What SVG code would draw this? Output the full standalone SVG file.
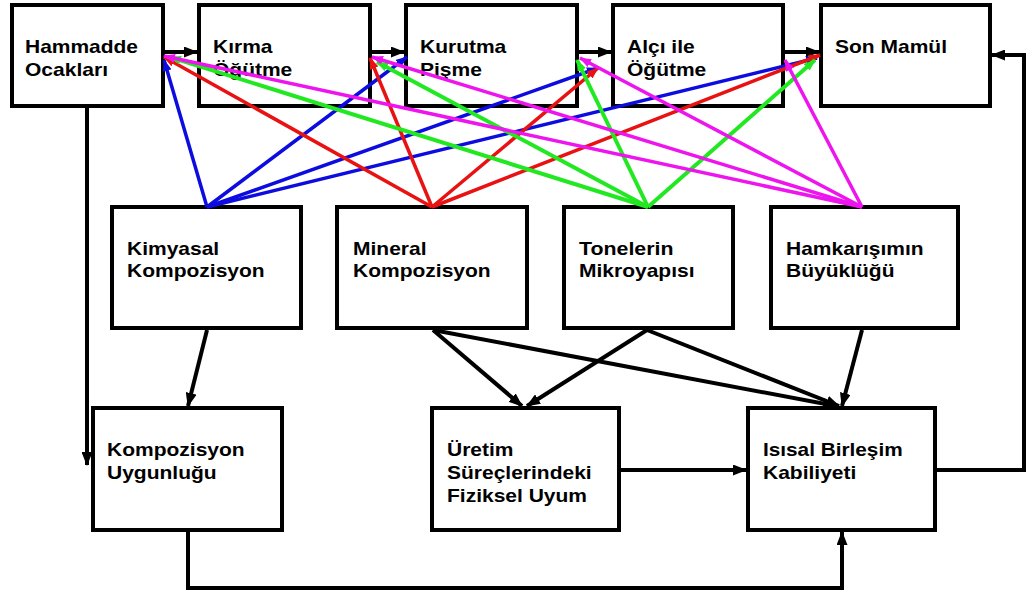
<svg xmlns="http://www.w3.org/2000/svg" width="1030" height="596" viewBox="0 0 1030 596">
  <style>
    .box { fill: #ffffff; stroke: #000000; stroke-width: 4; }
    .lbl { font-family: "Liberation Sans", Arial, sans-serif; font-weight: bold; font-size: 19px; fill: #000000; }
    .flow { fill: none; stroke: #000000; stroke-width: 4; }
    .blue { fill: none; stroke: #0c0ce0; stroke-width: 3.5; }
    .red { fill: none; stroke: #e81212; stroke-width: 3.5; }
    .green { fill: none; stroke: #22e822; stroke-width: 4; }
    .magenta { fill: none; stroke: #ee14ee; stroke-width: 3.5; }
  </style>
  <defs>
    <marker id="ahBlack" viewBox="0 0 14 11" refX="13" refY="5.5" markerWidth="14" markerHeight="11" markerUnits="userSpaceOnUse" orient="auto">
      <path d="M0,0 L14,5.5 L0,11 z" fill="#000000"/>
    </marker>
    <marker id="ahBlue" viewBox="0 0 12 9" refX="11" refY="4.5" markerWidth="12" markerHeight="9" markerUnits="userSpaceOnUse" orient="auto">
      <path d="M0,0 L12,4.5 L0,9 z" fill="#0c0ce0"/>
    </marker>
    <marker id="ahRed" viewBox="0 0 12 9" refX="11" refY="4.5" markerWidth="12" markerHeight="9" markerUnits="userSpaceOnUse" orient="auto">
      <path d="M0,0 L12,4.5 L0,9 z" fill="#e81212"/>
    </marker>
    <marker id="ahGreen" viewBox="0 0 12 9" refX="11" refY="4.5" markerWidth="12" markerHeight="9" markerUnits="userSpaceOnUse" orient="auto">
      <path d="M0,0 L12,4.5 L0,9 z" fill="#22e822"/>
    </marker>
    <marker id="ahMagenta" viewBox="0 0 12 9" refX="11" refY="4.5" markerWidth="12" markerHeight="9" markerUnits="userSpaceOnUse" orient="auto">
      <path d="M0,0 L12,4.5 L0,9 z" fill="#ee14ee"/>
    </marker>
  </defs>

  <rect x="0" y="0" width="1030" height="596" fill="#ffffff"/>

  <!-- process chain (top row) -->
  <g id="hammadde">
    <rect class="box" x="12" y="5" width="151" height="101"/>
    <text class="lbl" x="25" y="53" textLength="113" lengthAdjust="spacingAndGlyphs">Hammadde</text>
    <text class="lbl" x="25" y="76" textLength="83" lengthAdjust="spacingAndGlyphs">Ocakları</text>
  </g>
  <g id="kirma">
    <rect class="box" x="199" y="5" width="171" height="101"/>
    <text class="lbl" x="213" y="53" textLength="59.5" lengthAdjust="spacingAndGlyphs">Kırma</text>
    <text class="lbl" x="213" y="76" textLength="79.3" lengthAdjust="spacingAndGlyphs">Öğütme</text>
  </g>
  <g id="kurutma">
    <rect class="box" x="406" y="5" width="171" height="101"/>
    <text class="lbl" x="420" y="53" textLength="86.3" lengthAdjust="spacingAndGlyphs">Kurutma</text>
    <text class="lbl" x="420" y="76" textLength="61.9" lengthAdjust="spacingAndGlyphs">Pişme</text>
  </g>
  <g id="alci">
    <rect class="box" x="613" y="5" width="170" height="101"/>
    <text class="lbl" x="627" y="53" textLength="67.7" lengthAdjust="spacingAndGlyphs">Alçı ile</text>
    <text class="lbl" x="627" y="76" textLength="79.3" lengthAdjust="spacingAndGlyphs">Öğütme</text>
  </g>
  <g id="sonmamul">
    <rect class="box" x="821" y="5" width="169" height="101"/>
    <text class="lbl" x="835" y="53" textLength="112" lengthAdjust="spacingAndGlyphs">Son Mamül</text>
  </g>

  <!-- raw material properties (middle row) -->
  <g id="kimyasal">
    <rect class="box" x="112" y="207" width="189" height="121"/>
    <text class="lbl" x="127" y="255" textLength="92.2" lengthAdjust="spacingAndGlyphs">Kimyasal</text>
    <text class="lbl" x="127" y="277" textLength="137.7" lengthAdjust="spacingAndGlyphs">Kompozisyon</text>
  </g>
  <g id="mineral">
    <rect class="box" x="337" y="207" width="190" height="121"/>
    <text class="lbl" x="353" y="255" textLength="73.5" lengthAdjust="spacingAndGlyphs">Mineral</text>
    <text class="lbl" x="353" y="277" textLength="137.7" lengthAdjust="spacingAndGlyphs">Kompozisyon</text>
  </g>
  <g id="tonelerin">
    <rect class="box" x="564" y="207" width="169" height="121"/>
    <text class="lbl" x="579" y="255" textLength="94.5" lengthAdjust="spacingAndGlyphs">Tonelerin</text>
    <text class="lbl" x="579" y="277" textLength="115.5" lengthAdjust="spacingAndGlyphs">Mikroyapısı</text>
  </g>
  <g id="hamkarisim">
    <rect class="box" x="771" y="207" width="187" height="121"/>
    <text class="lbl" x="786" y="255" textLength="137.7" lengthAdjust="spacingAndGlyphs">Hamkarışımın</text>
    <text class="lbl" x="786" y="277" textLength="108.5" lengthAdjust="spacingAndGlyphs">Büyüklüğü</text>
  </g>

  <!-- outcomes (bottom row) -->
  <g id="uygunluk">
    <rect class="box" x="93" y="408" width="189" height="122"/>
    <text class="lbl" x="107" y="456" textLength="137.7" lengthAdjust="spacingAndGlyphs">Kompozisyon</text>
    <text class="lbl" x="107" y="479" textLength="109.7" lengthAdjust="spacingAndGlyphs">Uygunluğu</text>
  </g>
  <g id="uretim">
    <rect class="box" x="432" y="408" width="187" height="122"/>
    <text class="lbl" x="447" y="456" textLength="66.5" lengthAdjust="spacingAndGlyphs">Üretim</text>
    <text class="lbl" x="447" y="479" textLength="144.7" lengthAdjust="spacingAndGlyphs">Süreçlerindeki</text>
    <text class="lbl" x="447" y="502" textLength="140" lengthAdjust="spacingAndGlyphs">Fiziksel Uyum</text>
  </g>
  <g id="isisal">
    <rect class="box" x="748" y="408" width="187" height="122"/>
    <text class="lbl" x="763" y="456" textLength="139.6" lengthAdjust="spacingAndGlyphs">Isısal Birleşim</text>
    <text class="lbl" x="763" y="479" textLength="93.4" lengthAdjust="spacingAndGlyphs">Kabiliyeti</text>
  </g>

  <g id="connectors">
    <!-- process chain arrows -->
    <line class="flow" x1="163" y1="52" x2="197" y2="52" marker-end="url(#ahBlack)"/>
    <line class="flow" x1="370" y1="52" x2="404" y2="52" marker-end="url(#ahBlack)"/>
    <line class="flow" x1="577" y1="52" x2="611" y2="52" marker-end="url(#ahBlack)"/>
    <line class="flow" x1="783" y1="52" x2="819" y2="52" marker-end="url(#ahBlack)"/>

    <!-- property to outcome arrows -->
    <line class="flow" x1="207" y1="330" x2="188" y2="406" marker-end="url(#ahBlack)"/>
    <line class="flow" x1="433" y1="330" x2="522" y2="406" marker-end="url(#ahBlack)"/>
    <line class="flow" x1="433" y1="330" x2="836" y2="406" marker-end="url(#ahBlack)"/>
    <line class="flow" x1="647" y1="330" x2="527" y2="406" marker-end="url(#ahBlack)"/>
    <line class="flow" x1="647" y1="330" x2="839" y2="406" marker-end="url(#ahBlack)"/>
    <line class="flow" x1="862" y1="330" x2="842" y2="406" marker-end="url(#ahBlack)"/>
    <line class="flow" x1="619" y1="470" x2="746" y2="470" marker-end="url(#ahBlack)"/>
    <path class="flow" d="M87,106 V465" marker-end="url(#ahBlack)"/>
    <path class="flow" d="M188,530 V588 H842 V532" marker-end="url(#ahBlack)"/>
    <path class="flow" d="M935,470 H1024 V55 H992" marker-end="url(#ahBlack)"/>

    <!-- Kimyasal Kompozisyon influences -->
    <line class="blue" x1="207" y1="207" x2="164" y2="60" marker-end="url(#ahBlue)"/>
    <line class="blue" x1="207" y1="207" x2="407" y2="57" marker-end="url(#ahBlue)"/>
    <line class="blue" x1="207" y1="207" x2="598" y2="68" marker-end="url(#ahBlue)"/>
    <line class="blue" x1="207" y1="207" x2="817" y2="58" marker-end="url(#ahBlue)"/>

    <!-- Mineral Kompozisyon influences -->
    <line class="red" x1="432" y1="207" x2="164" y2="57" marker-end="url(#ahRed)"/>
    <line class="red" x1="432" y1="207" x2="370" y2="58" marker-end="url(#ahRed)"/>
    <line class="red" x1="432" y1="207" x2="598" y2="68" marker-end="url(#ahRed)"/>
    <line class="red" x1="432" y1="207" x2="820" y2="55" marker-end="url(#ahRed)"/>

    <!-- Tonelerin Mikroyapısı influences -->
    <line class="green" x1="648" y1="207" x2="170" y2="57" marker-end="url(#ahGreen)"/>
    <line class="green" x1="648" y1="207" x2="377" y2="62" marker-end="url(#ahGreen)"/>
    <line class="green" x1="648" y1="207" x2="577" y2="60" marker-end="url(#ahGreen)"/>
    <line class="green" x1="648" y1="207" x2="815" y2="60" marker-end="url(#ahGreen)"/>

    <!-- Hamkarışımın Büyüklüğü influences -->
    <line class="magenta" x1="862" y1="207" x2="164" y2="56" marker-end="url(#ahMagenta)"/>
    <line class="magenta" x1="862" y1="207" x2="372" y2="57" marker-end="url(#ahMagenta)"/>
    <line class="magenta" x1="862" y1="207" x2="580" y2="58" marker-end="url(#ahMagenta)"/>
    <line class="magenta" x1="862" y1="207" x2="785" y2="60" marker-end="url(#ahMagenta)"/>
  </g>
</svg>
